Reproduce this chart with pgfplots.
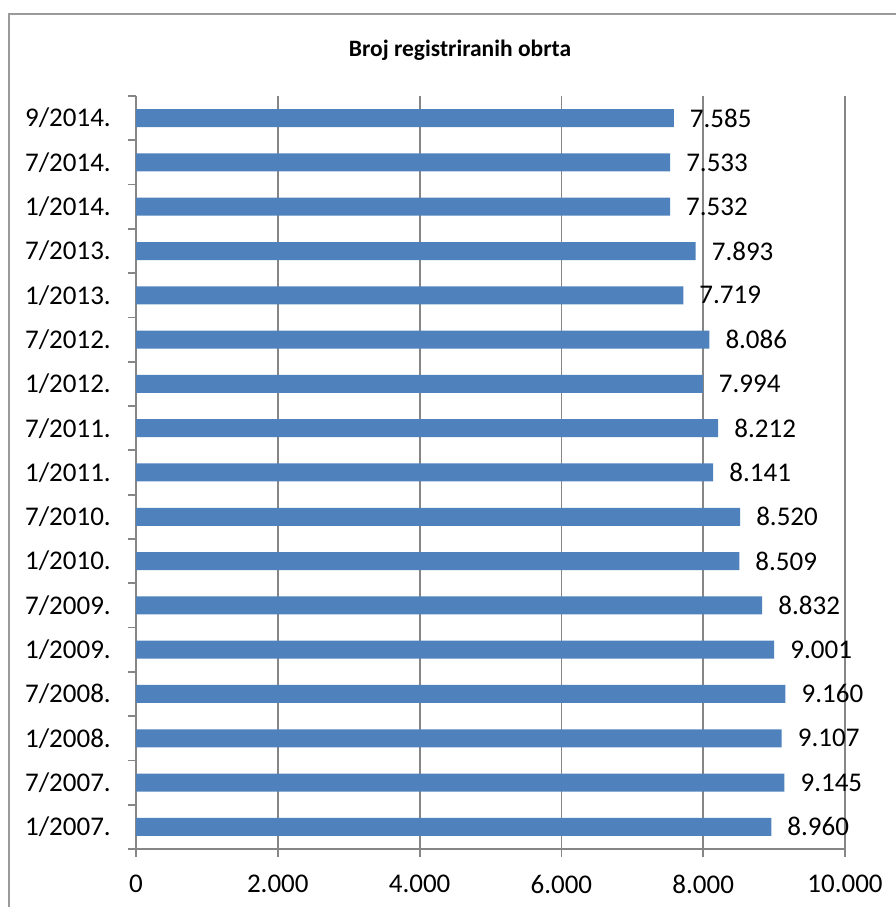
\documentclass[border=0pt]{standalone}
\usepackage{fontspec}
\setmainfont{Carlito}
\usepackage{pgfplots}
\pgfplotsset{compat=1.18}
\definecolor{barblue}{HTML}{4F81BD}
\definecolor{axgray}{HTML}{868686}
\definecolor{framegray}{HTML}{9A9A9A}

\pgfplotstableread{
idx value
0 8960
1 9145
2 9107
3 9160
4 9001
5 8832
6 8509
7 8520
8 8141
9 8212
10 7994
11 8086
12 7719
13 7893
14 7532
15 7533
16 7585
}\obrti

\begin{document}
\begin{tikzpicture}
\draw[framegray, line width=1.5pt] (9pt,-20pt) rectangle (915pt,893pt);
\node[font=\fontsize{23.5}{28}\selectfont\bfseries] at (460pt,857pt) {Broj registriranih obrta};
\begin{axis}[
    at={(136pt,58pt)}, anchor=south west,
    scale only axis,
    width=709pt, height=753pt,
    xbar, bar width=18pt,
    xmin=0, xmax=10000,
    ymin=-0.5, ymax=16.5,
    axis x line*=bottom, axis y line*=left,
    axis line style={axgray, line width=1.8pt, -},
    xtick={0,2000,4000,6000,8000,10000},
    scaled x ticks=false,
    xmajorgrids, major grid style={axgray, line width=1.8pt},
    ytick={-0.5,0.5,...,16.5},
    yticklabels={},
    extra y ticks={0,...,16},
    extra y tick labels={1/2007.,7/2007.,1/2008.,7/2008.,1/2009.,7/2009.,1/2010.,7/2010.,1/2011.,7/2011.,1/2012.,7/2012.,1/2013.,7/2013.,1/2014.,7/2014.,9/2014.},
    extra y tick style={major tick length=0pt},
    tick align=outside,
    tick style={axgray, line width=1.8pt},
    major tick length=8pt,
    ticklabel style={font=\fontsize{27}{32}\selectfont, text=black},
    yticklabel style={anchor=east, inner sep=0pt, xshift=-25pt},
    xticklabel style={anchor=north, inner sep=0pt, yshift=-18pt},
    /pgf/number format/.cd, 1000 sep={.}, assume math mode=true,
    /pgfplots/.cd,
    nodes near coords,
    every node near coord/.append style={anchor=west, inner sep=0pt, xshift=16pt, font=\fontsize{27}{32}\selectfont, text=black},
    clip=false,
]
\addplot[fill=barblue, draw=none] table[x=value, y=idx] {\obrti};
\end{axis}
\pgfresetboundingbox
\useasboundingbox (0pt,0pt) rectangle (896pt,907pt);
\end{tikzpicture}
\end{document}
